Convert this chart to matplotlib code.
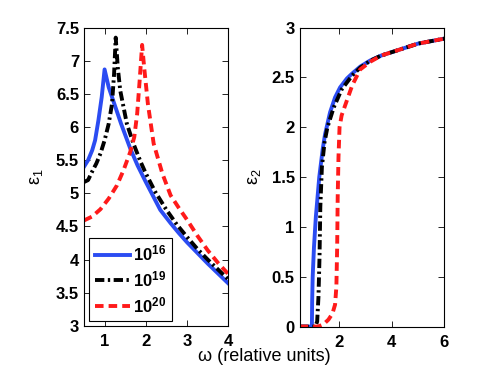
import matplotlib
matplotlib.use("Agg")
import matplotlib.pyplot as plt

# eps1 (left panel)
w1_16 = [0.5, 0.6, 0.7, 0.77, 0.85, 0.93, 1.0, 1.1, 1.22, 1.4, 1.62, 1.8, 2.0, 2.2, 2.35,
         2.6, 2.8, 3.0, 3.25, 3.5, 3.75, 4.0]
e1_16 = [5.40, 5.50, 5.65, 5.80, 6.10, 6.45, 6.87, 6.60, 6.38, 6.05, 5.68, 5.42, 5.17, 4.93, 4.75,
         4.55, 4.40, 4.26, 4.10, 3.94, 3.79, 3.64]

w1_19 = [0.5, 0.6, 0.7, 0.8, 0.9, 1.0, 1.1, 1.18, 1.23, 1.27, 1.32, 1.38, 1.54, 1.7, 1.87,
         2.0, 2.23, 2.5, 2.75, 3.0, 3.25, 3.5, 3.75, 4.0]
e1_19 = [5.17, 5.20, 5.33, 5.45, 5.60, 5.80, 6.05, 6.35, 6.80, 7.35, 6.90, 6.55, 6.05, 5.75, 5.48,
         5.30, 5.02, 4.75, 4.53, 4.34, 4.16, 4.00, 3.85, 3.70]

w1_20 = [0.5, 0.7, 0.9, 1.1, 1.3, 1.46, 1.62, 1.72, 1.79, 1.85, 1.91, 1.96, 2.05, 2.19, 2.4,
         2.6, 2.8, 3.0, 3.25, 3.5, 3.75, 4.0]
e1_20 = [4.59, 4.65, 4.76, 4.92, 5.12, 5.35, 5.62, 5.85, 6.20, 6.70, 7.24, 6.90, 6.35, 5.75, 5.30,
         4.97, 4.78, 4.60, 4.36, 4.14, 3.95, 3.78]

# eps2 (right panel)
w2_16 = [0.5, 0.97, 0.98, 1.0, 1.05, 1.12, 1.25, 1.38, 1.47, 1.66, 1.85, 2.04, 2.3, 2.5, 2.81,
         3.18, 3.6, 4.07, 5.0, 6.0]
e2_16 = [0, 0, 0.25, 0.5, 0.8, 1.1, 1.5, 1.78, 1.93, 2.15, 2.3, 2.40, 2.49, 2.54, 2.61,
         2.67, 2.72, 2.76, 2.84, 2.89]

w2_19 = [0.5, 1.1, 1.17, 1.22, 1.26, 1.29, 1.35, 1.45, 1.56, 1.8, 2.1, 2.5, 2.81, 3.2, 3.6,
         4.07, 5.0, 6.0]
e2_19 = [0, 0, 0.05, 0.3, 0.7, 1.2, 1.6, 1.85, 2.0, 2.2, 2.38, 2.52, 2.60, 2.67, 2.72,
         2.76, 2.84, 2.89]

w2_20 = [0.5, 1.2, 1.4, 1.6, 1.75, 1.85, 1.9, 1.93, 1.95, 1.98, 2.02, 2.1, 2.3, 2.5, 2.8,
         3.2, 3.6, 4.07, 5.0, 6.0]
e2_20 = [0, 0, 0.02, 0.07, 0.13, 0.22, 0.4, 0.8, 1.3, 1.7, 2.0, 2.12, 2.27, 2.42, 2.58,
         2.66, 2.72, 2.76, 2.84, 2.89]

labels = ["$\\mathbf{10^{16}}$", "$\\mathbf{10^{19}}$", "$\\mathbf{10^{20}}$"]
blue, red = "#2b4cf2", "#ff1a1a"
dashed = (0, (2.2, 1.3))
dashdot = (0, (2.4, 0.9, 0.6, 0.9))

plt.rcParams["font.family"] = ["Liberation Sans", "DejaVu Sans"]
plt.rcParams["mathtext.fontset"] = "custom"
plt.rcParams["mathtext.rm"] = "Liberation Sans"
plt.rcParams["mathtext.bf"] = "Liberation Sans:bold"

fig = plt.figure(figsize=(4.91, 3.69), dpi=100)
ax1 = fig.add_axes([0.171, 0.117, 0.294, 0.808])
ax2 = fig.add_axes([0.610, 0.115, 0.295, 0.810])

ax1.plot(w1_16, e1_16, color=blue, lw=2.8, label=labels[0])
ax1.plot(w1_19, e1_19, color="k", lw=2.8, ls=dashdot, label=labels[1])
ax1.plot(w1_20, e1_20, color=red, lw=2.8, ls=dashed, label=labels[2])
ax1.set_xlim(0.5, 4)
ax1.set_ylim(3, 7.5)
ax1.set_xticks([1, 2, 3, 4])
ax1.set_yticks([3, 3.5, 4, 4.5, 5, 5.5, 6, 6.5, 7, 7.5])
ax1.set_yticklabels(["3", "3.5", "4", "4.5", "5", "5.5", "6", "6.5", "7", "7.5"])
ax1.set_ylabel("ε$_1$", fontsize=13, labelpad=8)
leg = ax1.legend(loc="lower left", fontsize=12, handlelength=2.1, fancybox=False,
                 edgecolor="k", framealpha=1, borderaxespad=0.3, labelspacing=0.35,
                 handletextpad=0.2, borderpad=0.35)
leg.get_frame().set_linewidth(0.8)

ax2.plot(w2_16, e2_16, color=blue, lw=2.8)
ax2.plot(w2_19, e2_19, color="k", lw=2.8, ls=dashdot)
ax2.plot(w2_20, e2_20, color=red, lw=2.8, ls=dashed)
ax2.set_xlim(0.5, 6)
ax2.set_ylim(0, 3)
ax2.set_xticks([2, 4, 6])
ax2.set_yticks([0, 0.5, 1, 1.5, 2, 2.5, 3])
ax2.set_yticklabels(["0", "0.5", "1", "1.5", "2", "2.5", "3"])
ax2.set_ylabel("ε$_2$", fontsize=13, labelpad=6)

for ax in (ax1, ax2):
    ax.tick_params(direction="in", top=True, right=True, length=4, width=0.6, labelsize=12)
    ax.tick_params(axis="x", pad=6)
    for t in ax.get_xticklabels() + ax.get_yticklabels():
        t.set_fontweight("bold")
    for s in ax.spines.values():
        s.set_linewidth(0.8)

fig.text(0.538, 0.022, "ω (relative units)", ha="center", fontsize=13)

fig.savefig("out.png", dpi=100)
